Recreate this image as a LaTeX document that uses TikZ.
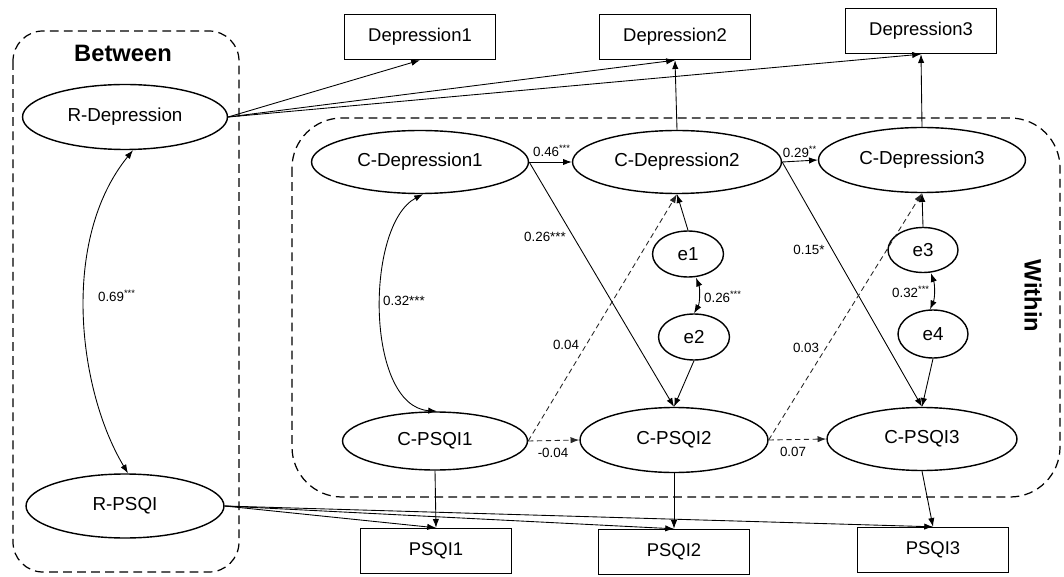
\documentclass[tikz,border=0pt]{standalone}
\usepackage{fontspec}
\setmainfont{Liberation Sans}
\usetikzlibrary{shapes.geometric,arrows.meta}
\begin{document}
\begin{tikzpicture}[x=0.02cm, y=-0.02cm, >={Latex[length=5pt,width=3.6pt]}]
        % Common styles
        \tikzstyle{lat}=[ellipse, draw, line width=0.8pt, inner sep=0pt, font=\fontsize{10.7}{12}\selectfont]
        \tikzstyle{obs}=[rectangle, draw, line width=0.8pt, inner sep=0pt, minimum width=3.02cm, minimum height=0.9cm, font=\fontsize{10.5}{12}\selectfont]
        \tikzstyle{conn}=[->, line width=0.5pt]
        \tikzstyle{dconn}=[->, line width=0.5pt, black!85, dash pattern=on 3pt off 2pt]
        \tikzstyle{coef}=[font=\fontsize{7.6}{9}\selectfont, inner sep=1pt]
        \tikzstyle{group}=[draw, line width=0.7pt, dash pattern=on 5pt off 3pt]
        \tikzstyle{grouptitle}=[font=\fontsize{13.5}{15}\selectfont\bfseries]

        \useasboundingbox (0,0) rectangle (1064,577);

        % --- Levels ---
        \draw[group, rounded corners=0.6cm] (13,31) rectangle (239,572);
        \draw[group, rounded corners=1cm] (292,118) rectangle (1060,497);
        \node[grouptitle] (between) at (123,53) {Between};
        \node[grouptitle, rotate=-90] (within) at (1033,296) {Within};

        % Observed scores
        \node[obs] (dep1) at (420,37) {Depression1};
        \node[obs] (dep2) at (675,37) {Depression2};
        \node[obs] (dep3) at (921,31) {Depression3};
        \node[obs] (psqi1) at (436,551) {PSQI1};
        \node[obs] (psqi2) at (674,552) {PSQI2};
        \node[obs] (psqi3) at (933,550) {PSQI3};

        % Random intercepts
        \node[lat, minimum width=4.1cm, minimum height=1.3cm] (rdep) at (125,117) {R-Depression};
        \node[lat, minimum width=3.96cm, minimum height=1.28cm] (rpsqi) at (125,506) {R-PSQI};

        % Within-person components
        \node[lat, minimum width=4.34cm, minimum height=1.26cm] (cdep1) at (420,162) {C-Depression1};
        \node[lat, minimum width=4.18cm, minimum height=1.26cm] (cdep2) at (677,162) {C-Depression2};
        \node[lat, minimum width=4.14cm, minimum height=1.3cm] (cdep3) at (922,160) {C-Depression3};
        \node[lat, minimum width=3.7cm, minimum height=1.16cm] (cpsqi1) at (435,441) {C-PSQI1};
        \node[lat, minimum width=3.76cm, minimum height=1.3cm] (cpsqi2) at (674,440) {C-PSQI2};
        \node[lat, minimum width=3.8cm, minimum height=1.26cm] (cpsqi3) at (922,439) {C-PSQI3};

        % Residuals
        \node[lat, minimum width=1.42cm, minimum height=0.92cm] (e1) at (688,254) {e1};
        \node[lat, minimum width=1.42cm, minimum height=0.92cm] (e2) at (694,337) {e2};
        \node[lat, minimum width=1.4cm, minimum height=0.9cm] (e3) at (923,250) {e3};
        \node[lat, minimum width=1.4cm, minimum height=0.96cm] (e4) at (933,334) {e4};

        % Loadings
        \foreach \d in {dep1, dep2, dep3} \draw[conn] (rdep.east) -- (\d.south);
        \foreach \p in {psqi1, psqi2, psqi3} \draw[conn] (rpsqi.east) -- (\p.north);
        \draw[conn] (cdep2.north) -- (dep2.south);
        \draw[conn] (cdep3.north) -- (dep3.south);
        \draw[conn] (cpsqi1.south) -- (psqi1.north);
        \draw[conn] (cpsqi2.south) -- (psqi2.north);
        \draw[conn] (cpsqi3.south) -- (psqi3.north);

        % Covariances
        \draw[<->, line width=0.5pt] ([xshift=0.16cm]rdep.south) .. controls (60,240) and (78,390) .. ([xshift=0.06cm]rpsqi.north);
        \draw[<->, line width=0.5pt] ([xshift=0.06cm]cdep1.south) .. controls (365,225) and (365,406) .. ([xshift=0.04cm]cpsqi1.north);
        \draw[<->, line width=0.5pt] ([xshift=0.16cm]e1.south) .. controls (700,288) and (700,303) .. (e2.north);
        \draw[<->, line width=0.5pt] ([xshift=0.16cm]e3.south) .. controls (935,285) and (935,298) .. ([xshift=-0.06cm]e4.north);
        \node[coef] (c069) at (117,296) {0.69\textsuperscript{***}};
        \node[coef] (c032a) at (404,301) {0.32***};
        \node[coef] (c026b) at (723,297) {0.26\textsuperscript{***}};
        \node[coef] (c032b) at (911,292) {0.32\textsuperscript{***}};

        % Autoregressive paths
        \draw[conn] (cdep1.east) -- (cdep2.west);
        \draw[conn] (cdep2.east) -- (cdep3.west);
        \draw[dconn] (cpsqi1.east) -- (cpsqi2.west);
        \draw[dconn] (cpsqi2.east) -- (cpsqi3.west);
        \node[coef] (c046) at (552,151) {0.46\textsuperscript{***}};
        \node[coef] (c029) at (800,152) {0.29\textsuperscript{**}};
        \node[coef] (cm004) at (553,453) {-0.04};
        \node[coef] (c007) at (793,452) {0.07};

        % Cross-lagged paths
        \draw[conn] (cdep1.east) -- (cpsqi2.north);
        \draw[conn] (cdep2.east) -- (cpsqi3.north);
        \draw[dconn] (cpsqi1.east) -- (cdep2.south);
        \draw[dconn] (cpsqi2.east) -- (cdep3.south);
        \node[coef] (c026a) at (545,237) {0.26***};
        \node[coef] (c015) at (809,250) {0.15*};
        \node[coef] (c004) at (566,345) {0.04};
        \node[coef] (c003) at (806,348) {0.03};

        % Residual paths
        \draw[conn] (e1.north) -- (cdep2.south);
        \draw[conn] (e2.south) -- (cpsqi2.north);
        \draw[conn] (e3.north) -- (cdep3.south);
        \draw[conn] (e4.south) -- (cpsqi3.north);

\end{tikzpicture}
\end{document}
